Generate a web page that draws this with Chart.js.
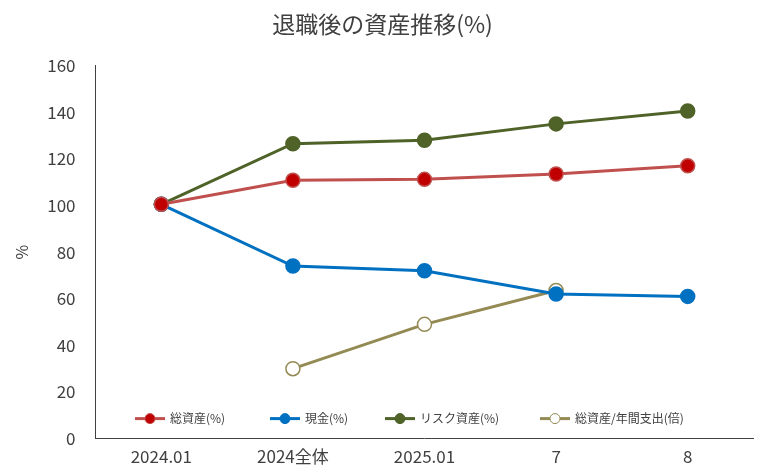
<!DOCTYPE html>
<html><head><meta charset="utf-8">
<script src="https://cdn.jsdelivr.net/npm/chart.js@4"></script>
<style>body{margin:0;background:#fff}#w{width:762px;height:475px}</style></head>
<body><div id="w"><canvas id="c"></canvas></div>
<script>
const categories=['2024.01','2024全体','2025.01','7','8'];
const totalAssets=[100.5,110.8,111.2,113.5,117];
const cash=[100.5,74,72,62,61];
const riskAssets=[100.5,126.5,128,135,140.5];
const ratio=[null,30,49,63.5,null];
const yTicks=[0,20,40,60,80,100,120,140,160];
const F='"Noto Sans CJK JP","Noto Sans",sans-serif';
function ds(label,data,color,fill){return {label,data,borderColor:color,backgroundColor:fill,pointBackgroundColor:fill,pointBorderColor:color,pointRadius:7,pointHoverRadius:7,borderWidth:3,pointBorderWidth:1.5,spanGaps:false};}
const legendPlugin={id:'lg',afterDraw(ch){const c=ch.ctx;const y=ch.chartArea.bottom-20;const xs=[135,270,385,540];c.save();c.font='12px '+F;c.textBaseline='middle';
ch.data.datasets.forEach((d,i)=>{const x=xs[i];c.strokeStyle=d.borderColor;c.lineWidth=3;c.beginPath();c.moveTo(x,y);c.lineTo(x+30,y);c.stroke();c.beginPath();c.arc(x+15,y,5,0,Math.PI*2);c.fillStyle=d.pointBackgroundColor;c.fill();c.lineWidth=1;c.stroke();c.fillStyle='#404040';c.fillText(d.label,x+35,y);});c.restore();}};
new Chart(document.getElementById('c'),{type:'line',data:{labels:categories,datasets:[
ds('総資産(%)',totalAssets,'#C0504D','#C00000'),
ds('現金(%)',cash,'#0070C0','#0070C0'),
ds('リスク資産(%)',riskAssets,'#4F6228','#4F6228'),
ds('総資産/年間支出(倍)',ratio,'#948A54','#FFFFFF')]},
options:{responsive:true,maintainAspectRatio:false,animation:false,
layout:{padding:{left:8,right:5,top:0,bottom:0}},
plugins:{legend:{display:false},tooltip:{enabled:false},title:{display:true,text:'退職後の資産推移(%)',color:'#404040',font:{size:23,family:F,weight:'normal'},padding:{top:10,bottom:28}}},
scales:{x:{offset:true,grid:{display:false,drawTicks:false},border:{color:'#404040'},ticks:{color:'#404040',font:{size:17,family:F},padding:8}},
y:{min:0,max:160,afterBuildTicks(a){a.ticks=yTicks.map(v=>({value:v}));},grid:{display:false},border:{color:'#404040'},title:{display:true,text:'%',color:'#404040',font:{size:16,family:F}},ticks:{color:'#404040',font:{size:17,family:F},padding:12}}}},
plugins:[legendPlugin]});
</script></body></html>
